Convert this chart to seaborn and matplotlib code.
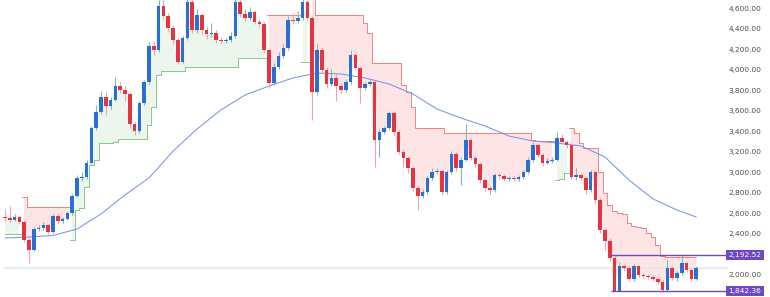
import numpy as np
import pandas as pd
import matplotlib
matplotlib.use("Agg")
import matplotlib.pyplot as plt
import seaborn as sns

sns.set_theme(style="white")
plt.rcParams["font.family"] = ["DejaVu Sans"]

# ---------------- data ----------------
FIRST_OPEN = 2567
CLOSE = [2557, 2537, 2567, 2518, 2342, 2244, 2449, 2459, 2488, 2420,
         2576, 2528, 2547, 2606, 2772, 2948, 2958, 3095, 3437, 3593,
         3740, 3652, 3710, 3847, 3808, 3769, 3476, 3407, 3681, 3886,
         4238, 4199, 4629, 4532, 4414, 4297, 4082, 4317, 4668, 4395,
         4541, 4395, 4356, 4365, 4297, 4287, 4297, 4336, 4668, 4551,
         4512, 4571, 4473, 4453, 4199, 3877, 4033, 4141, 4219, 4492,
         4483, 4512, 4668, 4512, 3789, 4199, 4004, 3867, 3926, 3847,
         3808, 3886, 4150, 4023, 3828, 3867, 3886, 3319, 3398, 3437,
         3583, 3398, 3202, 3143, 3046, 2850, 2772, 2811, 2948, 3007,
         3016, 2811, 3007, 3182, 3046, 3124, 3319, 3143, 3085, 2928,
         2850, 2831, 2977, 2968, 2938, 2948, 2938, 2958, 3007, 3124,
         3270, 3173, 3095, 3114, 3124, 3339, 3300, 3270, 2958, 2977,
         2948, 2831, 3007, 2733, 2440, 2332, 2166, 1845, 2088, 2068,
         1960, 2088, 2000, 1990, 1980, 1960, 1931, 1853, 2068, 1970,
         2019, 2117, 2049, 1960, 2068]
HIGH = [2640, 2674, 2600, 2590, 2540, 2360, 2470, 2490, 2520, 2500,
        2600, 2610, 2570, 2630, 2790, 2980, 3010, 3120, 3460, 3660,
        3800, 3790, 3740, 3935, 3890, 3850, 3790, 3500, 3700, 3910,
        4280, 4290, 4690, 4690, 4560, 4440, 4320, 4340, 4720, 4690,
        4600, 4560, 4430, 4460, 4390, 4330, 4320, 4380, 4720, 4700,
        4600, 4620, 4590, 4500, 4470, 4210, 4070, 4180, 4260, 4530,
        4560, 4580, 4720, 4690, 4530, 4260, 4230, 4030, 4010, 3960,
        3880, 3920, 4200, 4170, 4040, 3890, 3910, 3900, 3430, 3460,
        3600, 3600, 3420, 3230, 3160, 3070, 2870, 2840, 2970, 3050,
        3050, 3030, 3030, 3210, 3200, 3150, 3480, 3340, 3160, 3100,
        2950, 2870, 3000, 3000, 2990, 2970, 2970, 2980, 3030, 3150,
        3300, 3290, 3190, 3140, 3150, 3400, 3380, 3320, 3290, 3050,
        3000, 2970, 3030, 3030, 2750, 2460, 2360, 2190, 2130, 2110,
        2090, 2110, 2100, 2020, 2010, 2000, 1980, 1950, 2160, 2090,
        2040, 2192.52, 2130, 2070, 2090]
LOW = [2530, 2520, 2525, 2500, 2320, 2117, 2230, 2430, 2440, 2400,
       2410, 2500, 2510, 2535, 2590, 2760, 2920, 2940, 3080, 3420,
       3570, 3560, 3620, 3700, 3780, 3700, 3440, 3370, 3390, 3660,
       3870, 4150, 4180, 4500, 4380, 4260, 4060, 4070, 4300, 4370,
       4370, 4360, 4310, 4330, 4270, 4260, 4270, 4280, 4320, 4520,
       4480, 4490, 4450, 4420, 4170, 3830, 3860, 4010, 4120, 4200,
       4450, 4460, 4490, 4490, 3515, 3760, 3980, 3830, 3850, 3700,
       3780, 3790, 3870, 4000, 3680, 3810, 3850, 3060, 3150, 3380,
       3420, 3370, 3180, 3060, 3000, 2820, 2635, 2750, 2790, 2930,
       2990, 2780, 2790, 2990, 3020, 2880, 3110, 3120, 3060, 2900,
       2820, 2780, 2810, 2940, 2920, 2920, 2920, 2920, 2940, 2990,
       3100, 3150, 3070, 3080, 3090, 3110, 3280, 3240, 2940, 2930,
       2920, 2790, 2810, 2700, 2410, 2240, 2140, 1842.36, 1845, 2040,
       1940, 1940, 1980, 1970, 1960, 1940, 1910, 1845, 1848, 1950,
       1940, 2000, 2030, 1940, 1950]

# supertrend levels: (first candle, last candle, level)
ST_RUNS = [(0, 3, 2400), (4, 4, 2760), (5, 13, 2665), (14, 14, 2342),
           (15, 15, 2635), (16, 16, 2655), (17, 17, 2860), (18, 18, 3075),
           (19, 19, 3124), (20, 22, 3290), (23, 23, 3300), (24, 29, 3329),
           (30, 30, 3466), (31, 31, 3642), (32, 32, 3955), (33, 37, 3994),
           (38, 48, 4033), (49, 54, 4121), (55, 61, 4541), (62, 63, 4082),
           (64, 64, 4720), (65, 74, 4541), (75, 75, 4463), (76, 76, 4365),
           (77, 82, 4072), (83, 83, 3857), (84, 84, 3789), (85, 85, 3642),
           (86, 91, 3437), (92, 109, 3388), (110, 110, 3320), (111, 114, 3310),
           (115, 115, 2928), (116, 116, 2940), (117, 117, 2997), (118, 118, 3437),
           (119, 119, 3388), (120, 120, 3290), (121, 123, 3241), (124, 124, 3007),
           (125, 125, 2801), (126, 126, 2684), (127, 127, 2625), (128, 128, 2606),
           (129, 129, 2596), (130, 130, 2508), (131, 131, 2479), (132, 132, 2469),
           (133, 133, 2459), (134, 134, 2410), (135, 135, 2371), (136, 136, 2293),
           (137, 137, 2185), (138, 144, 2176)]
UP_RUNS = [(0, 3), (14, 54), (62, 63), (115, 117)]

MA_IDX = [0, 5, 10, 15, 20, 25, 30, 35, 40, 45, 50, 55, 60, 65, 70, 75, 80,
          85, 90, 95, 100, 105, 110, 115, 120, 125, 130, 135, 140, 144]
MA_VAL = [2361, 2371, 2386, 2449, 2596, 2782, 2948, 3210, 3427, 3613, 3759,
          3847, 3926, 3974, 3965, 3926, 3867, 3769, 3622, 3534, 3456, 3358,
          3310, 3290, 3261, 3153, 2928, 2743, 2635, 2567]

Y_TICKS = [2000, 2400, 2600, 2800, 3000, 3200, 3400, 3600, 3800, 4000,
           4200, 4400, 4600]
LEVELS = [2192.52, 1842.36]
RANGE_START = 126.2

# ---------------- build ----------------
c = np.array(CLOSE, float)
o = np.array([FIRST_OPEN] + CLOSE[:-1], float)
h = np.array(HIGH, float)
l = np.array(LOW, float)
N = len(c)
idx = np.arange(N)
df = pd.DataFrame({"i": idx, "open": o, "close": c, "high": h, "low": l})

st = np.full(N, np.nan)
for a, b, v in ST_RUNS:
    st[a:b + 1] = v
up = np.zeros(N, bool)
for a, b in UP_RUNS:
    up[a:b + 1] = True
mid = (o + c) / 2

BLUE = "#2a6fd8"
RED = "#e5343f"
PURPLE = "#7048c6"

fig = plt.figure(figsize=(7.7, 2.97), dpi=100)
ax = fig.add_axes([0, 0, 1, 1])
X0, X1 = -1.04, 159.375
ax.set_xlim(X0, X1)
ax.set_ylim(1784.5, 4688)

# supertrend fills and lines
ax.fill_between(idx, st, mid, where=up, step="mid", color="#4caf50",
                alpha=0.10, linewidth=0, zorder=1)
ax.fill_between(idx, st, mid, where=~up, step="mid", color="#f23645",
                alpha=0.13, linewidth=0, zorder=1)
ax.plot(idx, np.where(up, st, np.nan), drawstyle="steps-mid",
        color="#66bb6a", lw=0.7, alpha=0.8, zorder=2)
ax.plot(idx, np.where(~up, st, np.nan), drawstyle="steps-mid",
        color="#ef5350", lw=0.7, alpha=0.7, zorder=2)

# last price line
ax.axhline(c[-1], xmin=0.005, xmax=0.944, color="#e4e7ee", lw=1.3, zorder=1)

# moving average
sns.lineplot(x=MA_IDX, y=MA_VAL, ax=ax, color="#7895e2", linewidth=0.75,
             zorder=3)

# candles
is_up = df["close"] >= df["open"]
body_col = np.where(is_up, BLUE, RED)
wick_col = np.where(is_up, "#86b7b0", "#f2a3aa")
ax.vlines(df["i"], df["low"], df["high"], colors=wick_col, lw=0.8, zorder=4)
bottom = np.minimum(o, c)
height = np.maximum(np.abs(c - o), 8)
ax.bar(df["i"], height, bottom=bottom, width=0.72, color=body_col,
       linewidth=0, zorder=5)

# range levels
box_left = X0 + (726 / 770) * (X1 - X0)
for lv in LEVELS:
    ax.hlines(lv, RANGE_START, box_left, color=PURPLE, lw=1.0, zorder=6)
    ax.text(745 / 770, lv, f"{lv:,.2f}", transform=ax.get_yaxis_transform(),
            ha="center", va="center", fontsize=5.3, color="white", zorder=8,
            bbox=dict(boxstyle="square,pad=0.3", fc=PURPLE, ec="none"))

# price scale labels
for t in Y_TICKS:
    ax.text(0.989, t, f"{t:,.2f}", transform=ax.get_yaxis_transform(),
            ha="right", va="center", fontsize=5.3, color="#4a4a4a", zorder=7)

ax.set_xlabel("")
ax.set_ylabel("")
ax.set_xticks([])
ax.set_yticks([])
for s in ax.spines.values():
    s.set_visible(False)

fig.savefig("out.png", dpi=100)
